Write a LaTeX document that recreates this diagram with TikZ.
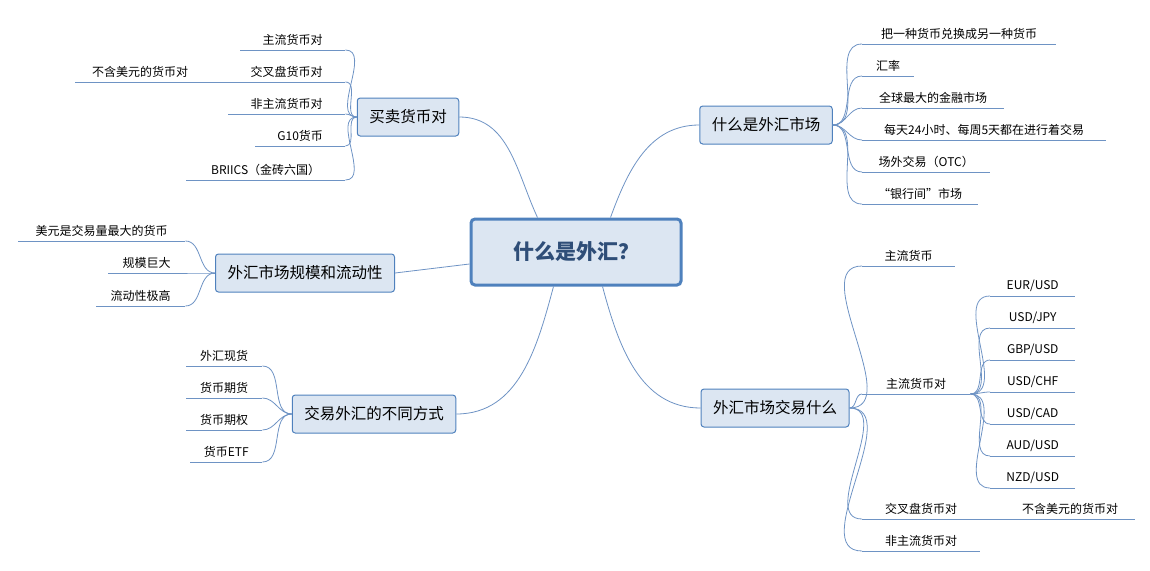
\documentclass[tikz,border=0pt]{standalone}
\usepackage{fontspec}
\setmainfont{Noto Sans CJK SC}
\definecolor{lnk}{HTML}{6E93C4}
\definecolor{brd}{HTML}{4F81BD}
\definecolor{fil}{HTML}{DCE6F2}
\definecolor{ctx}{HTML}{2F4E78}
\begin{document}
\begin{tikzpicture}[x=1pt,y=-1pt,
  link/.style={draw=lnk,line width=0.8pt},
  center/.style={draw=brd,line width=3pt,fill=fil,rounded corners=4pt,minimum width=210pt,minimum height=66pt,font=\fontsize{21}{24}\selectfont\bfseries,text=ctx},
  branch/.style={draw=brd,line width=1pt,fill=fil,rounded corners=3pt,minimum height=38pt,inner xsep=12pt,font=\fontsize{15.5}{18}\selectfont},
  leaf/.style={font=\fontsize{12}{14}\selectfont,inner xsep=0pt,inner ysep=4pt,minimum width=#1,anchor=south west,
    append after command={(\tikzlastnode.south west) edge[link] (\tikzlastnode.south east)}}]
  \useasboundingbox (0,0) rectangle (1150,570);
  %main
  \node[center] (c) at (576,252) {什么是外汇？};
  \node[branch] (b1) at (408,117) {买卖货币对};
  \node[branch] (b2) at (305,273) {外汇市场规模和流动性};
  \node[branch] (b3) at (374,414) {交易外汇的不同方式};
  \node[branch] (b4) at (766,125) {什么是外汇市场};
  \node[branch] (b5) at (775,408) {外汇市场交易什么};
  \draw[link] (c.north west) ++(68,0) to[out=115,in=0] (b1.east);
  \draw[link] (c.west) ++(0,12) -- (b2.east);
  \draw[link] (c.south west) ++(84,0) to[out=-105,in=0] (b3.east);
  \draw[link] (c.north east) ++(-72,0) to[out=70,in=180] (b4.west);
  \draw[link] (c.south east) ++(-80,0) to[out=-75,in=180] (b5.west);
  %left upper
  \node[leaf=105pt] (a1) at (240,50) {主流货币对};
  \node[leaf=117pt] (a2) at (228,82) {交叉盘货币对};
  \node[leaf=117pt] (a3) at (228,114) {非主流货币对};
  \node[leaf=90pt] (a4) at (255,146) {G10货币};
  \node[leaf=159pt] (a5) at (186,180) {BRIICS（金砖六国）};
  \node[leaf=130pt] (a6) at (75,82) {不含美元的货币对};
  \draw[link] (a2.south west) -- (a6.south east);
  \foreach \n in {a1,a2,a3,a4,a5}
    \draw[link] (b1.west) to[out=180,in=0] (\n.south east);
  %left middle
  \node[leaf=167pt] (m1) at (18,241) {美元是交易量最大的货币};
  \node[leaf=77pt] (m2) at (108,273) {规模巨大};
  \node[leaf=89pt] (m3) at (96,306) {流动性极高};
  \foreach \n in {m1,m2,m3}
    \draw[link] (b2.west) to[out=180,in=0] (\n.south east);
  %left lower
  \node[leaf=76pt] (w1) at (186,366) {外汇现货};
  \node[leaf=76pt] (w2) at (186,398) {货币期货};
  \node[leaf=76pt] (w3) at (186,430) {货币期权};
  \node[leaf=72pt] (w4) at (190,462) {货币ETF};
  \foreach \n in {w1,w2,w3,w4}
    \draw[link] (b3.west) to[out=180,in=0] (\n.south east);
  %right upper
  \node[leaf=194pt] (r1) at (862,44) {把一种货币兑换成另一种货币};
  \node[leaf=52pt] (r2) at (862,76) {汇率};
  \node[leaf=142pt] (r3) at (862,108) {全球最大的金融市场};
  \node[leaf=244pt] (r4) at (862,140) {每天24小时、每周5天都在进行着交易};
  \node[leaf=128pt] (r5) at (862,172) {场外交易（OTC）};
  \node[leaf=116pt] (r6) at (862,204) {“银行间”市场};
  \foreach \n in {r1,r2,r3,r4,r5,r6}
    \draw[link] (b4.east) to[out=0,in=180] (\n.south west);
  %right lower
  \node[leaf=93pt] (t1) at (862,266) {主流货币};
  \node[leaf=108pt] (t2) at (862,394) {主流货币对};
  \node[leaf=118pt] (t3) at (862,519) {交叉盘货币对};
  \node[leaf=118pt] (t4) at (862,551) {非主流货币对};
  \node[leaf=130pt] (t5) at (1005,519) {不含美元的货币对};
  \draw[link] (t3.south east) -- (t5.south west);
  \foreach \n in {t1,t2,t3,t4}
    \draw[link] (b5.east) to[out=0,in=180] (\n.south west);
  \foreach \p [count=\i] in {EUR/USD,USD/JPY,GBP/USD,USD/CHF,USD/CAD,AUD/USD,NZD/USD} {
    \node[leaf=85pt] (p\i) at (990,264+32*\i) {\p};
    \draw[link] (t2.south east) to[out=0,in=180] (p\i.south west);
  }
\end{tikzpicture}
\end{document}
